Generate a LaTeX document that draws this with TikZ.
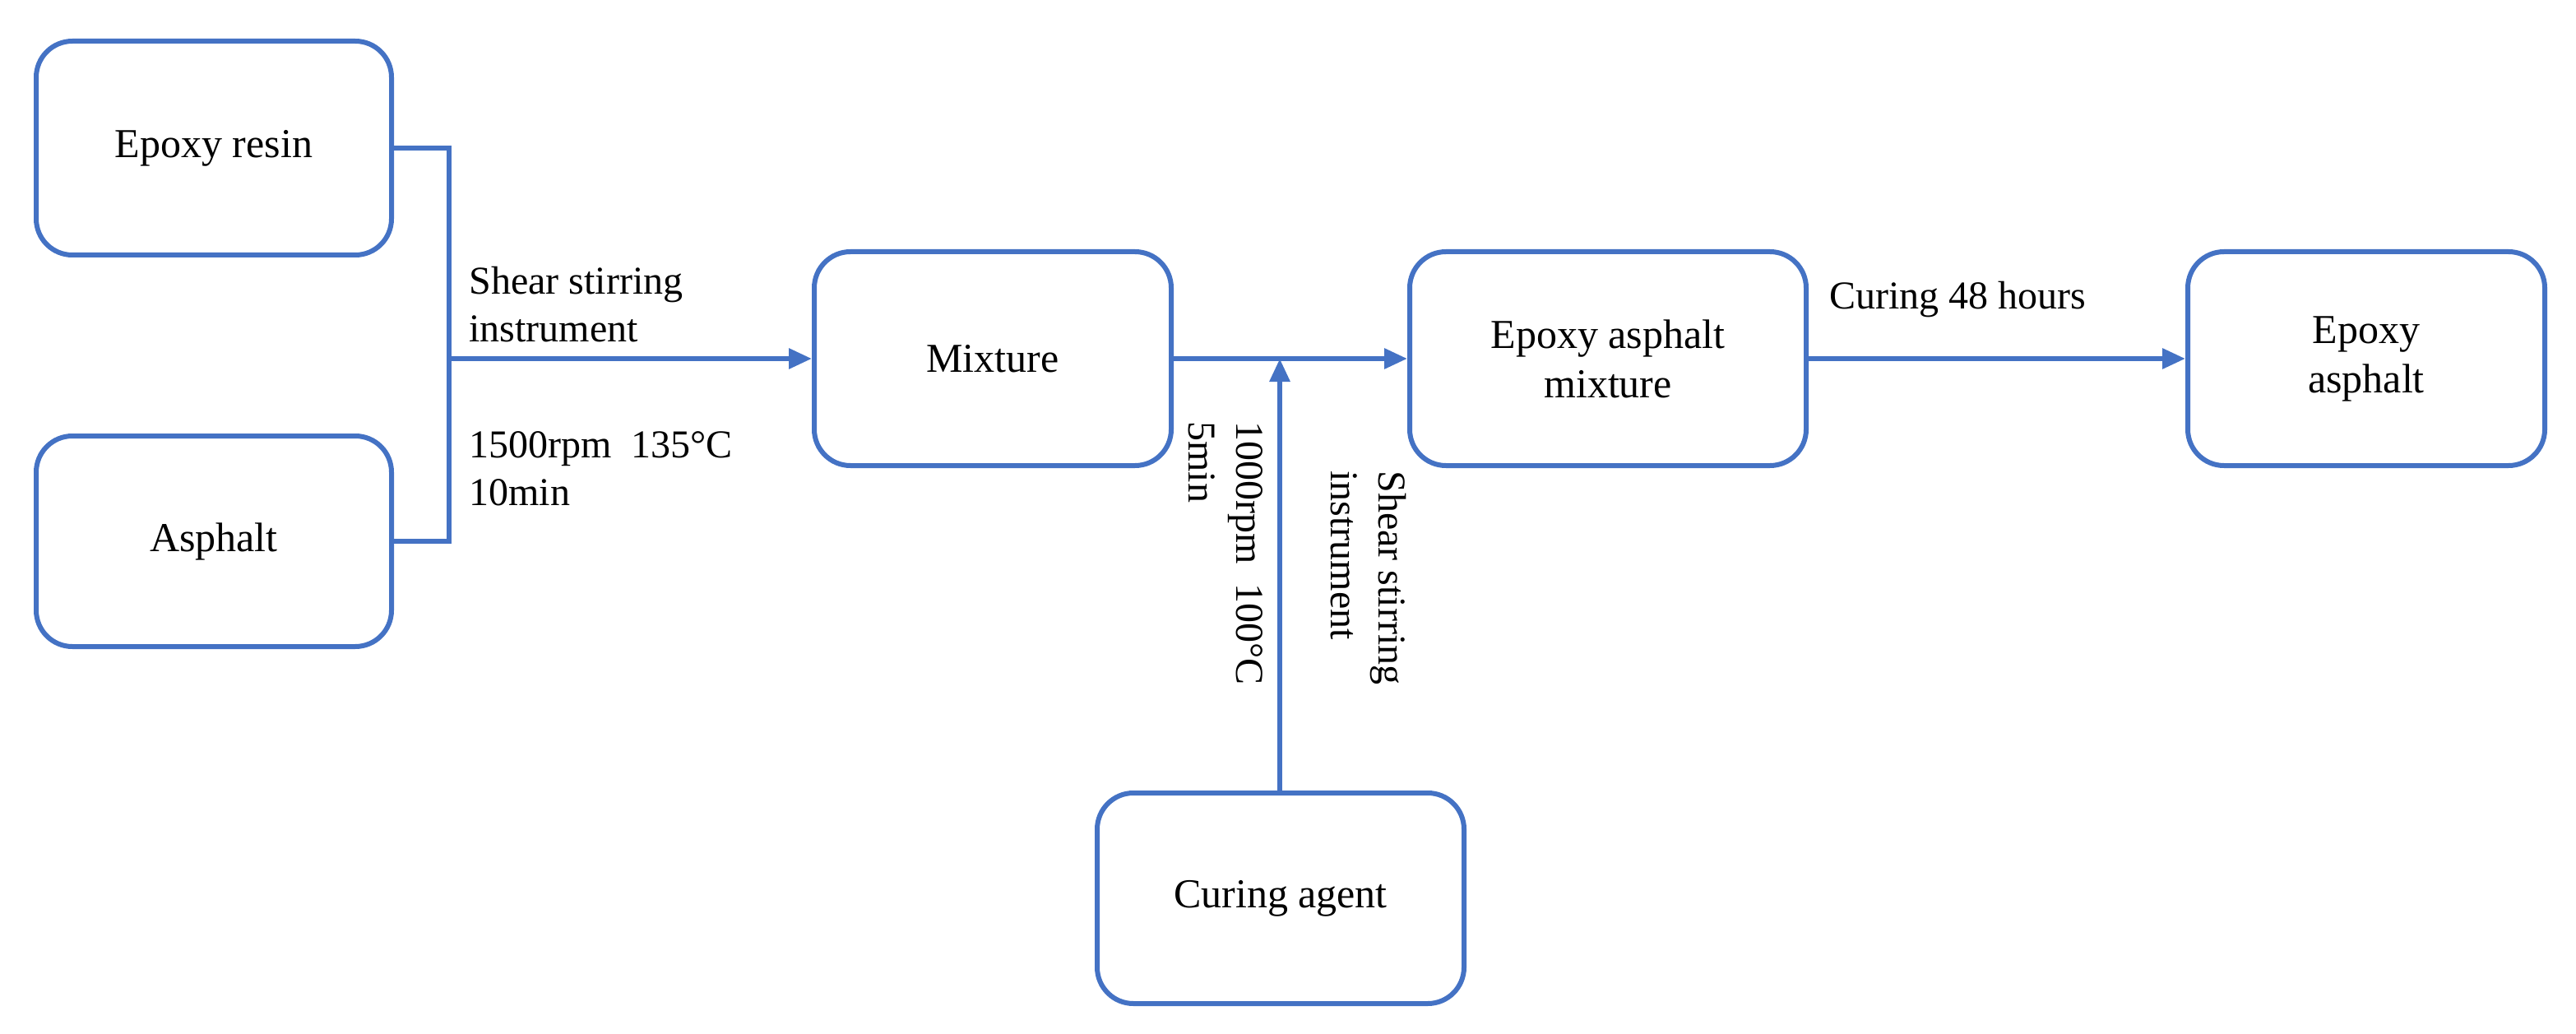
\documentclass[tikz,border=0pt]{standalone}
\usepackage{fontspec}
\setmainfont{Liberation Serif}
\usetikzlibrary{arrows.meta}
\begin{document}
\begin{tikzpicture}[x=1pt,y=-1pt,
  box/.style={draw=blu,line width=3pt,rounded corners=22pt,font=\fontsize{25}{30}\selectfont,align=center,inner sep=0pt},
  ln/.style={draw=blu,line width=3pt},
  arr/.style={ln,-{Triangle[length=14pt,width=12pt]}},
  lab/.style={font=\fontsize{24}{29}\selectfont,align=left,inner sep=0pt}]
\definecolor{blu}{RGB}{68,114,196}
\useasboundingbox (0,0) rectangle (1566,628.5);
\node[box,minimum width=216pt,minimum height=130pt] (er) at (130,90) {Epoxy resin};
\node[box,minimum width=216pt,minimum height=128pt] (as) at (130,329) {Asphalt};
\node[box,minimum width=217pt,minimum height=130pt] (mx) at (603.5,218) {Mixture};
\node[box,minimum width=241pt,minimum height=130pt] (eam) at (977.5,218) {Epoxy asphalt\\mixture};
\node[box,minimum width=217pt,minimum height=130pt] (ea) at (1438.5,218) {Epoxy\\asphalt};
\node[box,minimum width=223pt,minimum height=128pt] (ca) at (778.5,546) {Curing agent};
\coordinate (j) at (273,218);
\coordinate (k) at (778,218);
\draw[ln] (er.east) -| (273,329) -- (as.east);
\draw[arr] (j) -- (mx.west);
\draw[arr] (mx.east) -- (eam.west);
\draw[arr] (ca.north -| k) -- (k);
\draw[arr] (eam.east) -- (ea.west);
\node[lab,anchor=south west] at (285,208) {Shear stirring\\instrument};
\node[lab,anchor=north west] at (285,262) {1500rpm\ \ 135°C\\10min};
\node[lab,anchor=south west] at (1112,193) {Curing 48 hours};
\node[lab,rotate=-90,anchor=north west] at (768,256) {1000rpm\ \ 100°C\\5min};
\node[lab,rotate=-90,anchor=north west] at (855,286) {Shear stirring\\instrument};
\end{tikzpicture}
\end{document}
